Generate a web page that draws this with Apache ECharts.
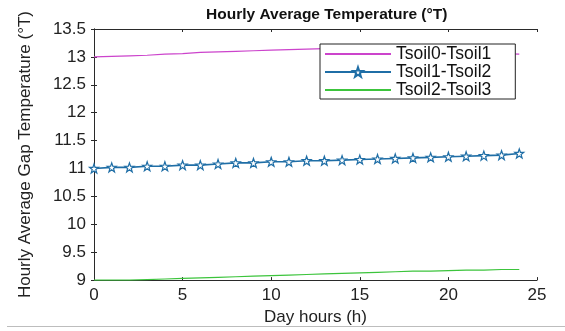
<!DOCTYPE html>
<html lang="en">
<head>
    <meta charset="UTF-8">
    <title>Hourly Average Temperature</title>
    <script src="https://cdn.jsdelivr.net/npm/echarts@6/dist/echarts.min.js"></script>
    <style>
        * { margin: 0; padding: 0 }
        html, body { width: 100%; height: 100%; background: #fff; }
        #main { width: 565px; height: 331px; }
    </style>
</head>
<body>
    <div id="main"></div>
    <script type="text/javascript">
        // hourly data
        var hours = [0, 1, 2, 3, 4, 5, 6, 7, 8, 9, 10, 11, 12, 13, 14, 15, 16, 17, 18, 19, 20, 21, 22, 23, 24];
        var tsoil01 = [13.00, 13.01, 13.02, 13.03, 13.05, 13.06, 13.08, 13.09, 13.10, 13.11, 13.12, 13.13, 13.14, 13.15, 13.15,
            13.15, 13.15, 13.15, 13.15, 13.14, 13.12, 13.10, 13.08, 13.06, 13.05];
        var tsoil12 = [11.00, 11.02, 11.02, 11.04, 11.04, 11.06, 11.06, 11.08, 11.10, 11.10, 11.12, 11.12, 11.14, 11.14, 11.15,
            11.16, 11.17, 11.18, 11.19, 11.20, 11.21, 11.22, 11.23, 11.24, 11.27];
        var tsoil23 = [9.00, 9.00, 9.00, 9.01, 9.02, 9.03, 9.04, 9.05, 9.06, 9.07, 9.08, 9.09, 9.10, 9.11, 9.12,
            9.13, 9.14, 9.15, 9.16, 9.16, 9.17, 9.18, 9.18, 9.19, 9.19];
        var seriesNames = ['Tsoil0-Tsoil1', 'Tsoil1-Tsoil2', 'Tsoil2-Tsoil3'];

        function pairs(ys) {
            return hours.map(function (h, i) { return [h, ys[i]]; });
        }

        var star = 'path://M0,-10 L2.35,-3.24 L9.51,-3.09 L3.8,1.24 L5.88,8.09 L0,4 L-5.88,8.09 L-3.8,1.24 L-9.51,-3.09 L-2.35,-3.24 Z';
        var font = 'Liberation Sans, Arial, sans-serif';
        var axisColor = '#2a2a2a';
        var hidden = { color: 'rgba(0,0,0,0)', borderWidth: 0 };

        var myChart = echarts.init(document.getElementById('main'));
        var option = {
            animation: false,
            title: {
                text: 'Hourly Average Temperature (°T)',
                left: 201,
                top: 2,
                textStyle: { fontFamily: font, fontSize: 15.5, fontWeight: 'bold', color: '#111' }
            },
            grid: { left: 94, right: 28, top: 29, bottom: 47 },
            legend: {
                orient: 'vertical',
                left: 320,
                top: 44,
                padding: [1, 24, 0, 4],
                itemGap: 0,
                itemWidth: 66,
                itemHeight: 12,
                backgroundColor: '#fff',
                borderColor: '#222',
                borderWidth: 1,
                borderRadius: 0,
                textStyle: { fontFamily: font, fontSize: 17.5, lineHeight: 16, color: '#111' },
                data: [
                    { name: seriesNames[0], itemStyle: hidden },
                    { name: seriesNames[1] },
                    { name: seriesNames[2], itemStyle: hidden }
                ]
            },
            xAxis: [{
                type: 'value',
                min: 0, max: 25, interval: 5,
                name: 'Day hours (h)',
                nameLocation: 'middle',
                nameGap: 22,
                nameTextStyle: { fontFamily: font, fontSize: 17, color: '#222' },
                axisLine: { lineStyle: { color: axisColor } },
                axisTick: { inside: true, length: 3, lineStyle: { color: axisColor } },
                axisLabel: { margin: 7, fontFamily: font, fontSize: 17, color: '#222' },
                splitLine: { show: false }
            }, {
                type: 'value', position: 'top',
                min: 0, max: 25, interval: 5,
                axisLine: { show: true, lineStyle: { color: axisColor } },
                axisTick: { inside: true, length: 3, lineStyle: { color: axisColor } },
                axisLabel: { show: false },
                splitLine: { show: false }
            }],
            yAxis: [{
                type: 'value',
                min: 9, max: 13.5, interval: 0.5,
                name: 'Hourly Average Gap Temperature (°T)',
                nameLocation: 'middle',
                nameGap: 60,
                nameTextStyle: { fontFamily: font, fontSize: 17, color: '#222' },
                axisLine: { show: true, lineStyle: { color: axisColor } },
                axisTick: { show: true, inside: true, length: 3, lineStyle: { color: axisColor } },
                axisLabel: { margin: 8, fontFamily: font, fontSize: 17, color: '#222' },
                splitLine: { show: false }
            }, {
                type: 'value', position: 'right',
                min: 9, max: 13.5, interval: 0.5,
                axisLine: { show: true, lineStyle: { color: axisColor } },
                axisTick: { show: true, inside: true, length: 3, lineStyle: { color: axisColor } },
                axisLabel: { show: false },
                splitLine: { show: false }
            }],
            series: [
                {
                    name: seriesNames[0],
                    type: 'line',
                    data: pairs(tsoil01),
                    symbol: 'none',
                    color: '#cc44cc',
                    lineStyle: { color: '#cc44cc', width: 1.2 }
                },
                {
                    name: seriesNames[1],
                    type: 'line',
                    data: pairs(tsoil12),
                    symbol: star,
                    symbolSize: 9,
                    color: '#1f6ea6',
                    itemStyle: { color: '#fff', borderColor: '#1f6ea6', borderWidth: 1.2 },
                    lineStyle: { color: '#1f6ea6', width: 1.6 }
                },
                {
                    name: seriesNames[2],
                    type: 'line',
                    data: pairs(tsoil23),
                    symbol: 'none',
                    color: '#3cc43c',
                    lineStyle: { color: '#3cc43c', width: 1.2 }
                }
            ],
            graphic: [{
                type: 'line',
                shape: { x1: 7, y1: 326.5, x2: 565, y2: 326.5 },
                style: { stroke: '#bdbdbd', lineWidth: 1 }
            }]
        };
        myChart.setOption(option);
    </script>
</body>
</html>
